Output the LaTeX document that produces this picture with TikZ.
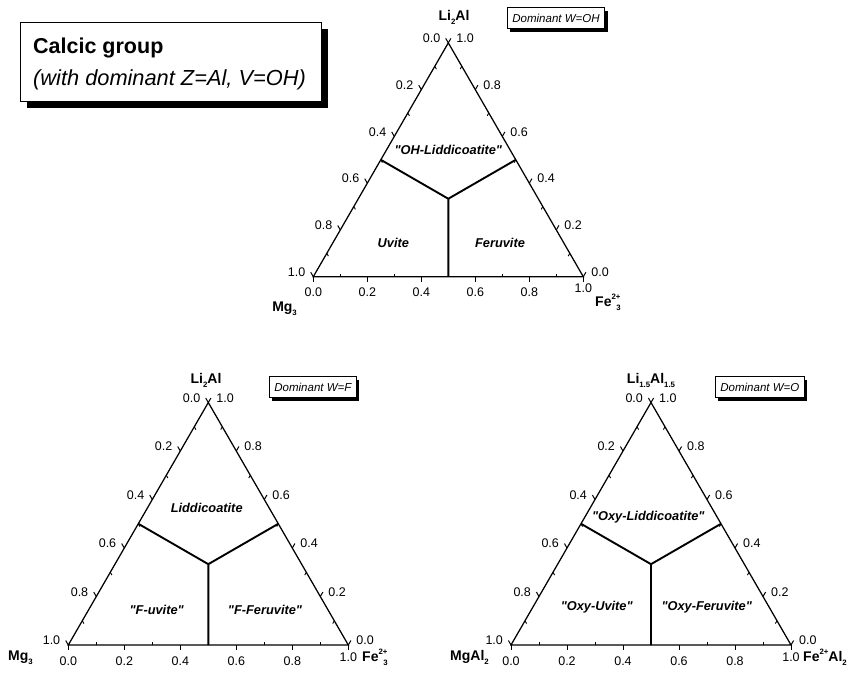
\documentclass[tikz,border=0pt]{standalone}
\usepackage{fontspec}
\setmainfont[Ligatures=TeXOff]{Liberation Sans}
\usetikzlibrary{calc,shadows}
\newcommand{\upx}[1]{\raisebox{0.5em}{\fontsize{7.8}{7.8}\selectfont #1}}
\newcommand{\dnx}[1]{\raisebox{-0.3em}{\fontsize{7.8}{7.8}\selectfont #1}}
\tikzset{
  side/.style={line width=1.25pt},
  divider/.style={line width=1.9pt},
  majtick/.style={line width=1pt},
  mintick/.style={line width=0.9pt},
  ticklab/.style={inner sep=0pt,font=\fontsize{12.5}{12.5}\selectfont},
  fieldlab/.style={inner sep=0pt,font=\fontsize{12.8}{12.8}\selectfont\bfseries\itshape},
  axislab/.style={inner sep=0pt,font=\fontsize{14}{14}\selectfont\bfseries},
  dombox/.style={draw,line width=0.8pt,fill=white,inner xsep=5pt,inner ysep=0pt,
    minimum height=21pt,
    font=\fontsize{11.5}{11.5}\selectfont\itshape,
    drop shadow={shadow xshift=3pt,shadow yshift=-3.5pt,fill=black,opacity=1}},
}
\newcommand{\ternplot}[4]{%
  \coordinate (#1bl) at (#2,#3);
  \coordinate (#1br) at ({#2+#4},#3);
  \coordinate (#1tp) at ({#2+#4/2},{#3-0.8660254*#4});
  \coordinate (#1c) at ({#2+#4/2},{#3-0.2886751*#4});
  \coordinate (#1ml) at ($(#1bl)!0.5!(#1tp)$);
  \coordinate (#1mr) at ($(#1br)!0.5!(#1tp)$);
  \coordinate (#1mb) at ($(#1bl)!0.5!(#1br)$);
  \foreach \v in {0.1,0.3,0.5,0.7,0.9}{
    \draw[mintick] ($(#1tp)!\v!(#1bl)$) -- ++(1.6,2.8);
    \draw[mintick] ($(#1br)!\v!(#1tp)$) -- ++(-1.6,2.8);
    \draw[mintick] ($(#1bl)!\v!(#1br)$) -- ++(0,-3);
  }
  \foreach \v/\l/\i in {0/0.0/0,0.2/0.2/2,0.4/0.4/4,0.6/0.6/6,0.8/0.8/8,1/1.0/10}{
    \draw[majtick] ($(#1tp)!\v!(#1bl)$) -- ++(-2.6,-4.5)
      node[ticklab,anchor=east,xshift=-5pt] (#1L\i) {\l};
    \draw[majtick] ($(#1br)!\v!(#1tp)$) -- ++(2.6,-4.5)
      node[ticklab,anchor=west,xshift=5pt] (#1R\i) {\l};
  }
  \foreach \v/\l/\i in {0/0.0/0,0.2/0.2/2,0.4/0.4/4,0.6/0.6/6,0.8/0.8/8}{
    \draw[majtick] ($(#1bl)!\v!(#1br)$) -- ++(0,5)
      node[ticklab,anchor=north,yshift=-6pt] (#1B\i) {\l};
  }
  \draw[majtick] (#1br) -- ++(0,5) node[ticklab,anchor=north,yshift=-2pt] (#1B10) {1.0};
  \draw[side] (#1bl) -- (#1br) -- (#1tp) -- cycle;
  \draw[divider] (#1ml) -- (#1c) -- (#1mr) (#1c) -- (#1mb);
}
\begin{document}
\begin{tikzpicture}[x=1pt,y=-1pt]
\useasboundingbox (0,0) rectangle (853,677);
% title box
\node[draw,line width=0.8pt,fill=white,minimum width=301pt,minimum height=79pt,
  drop shadow={shadow xshift=6pt,shadow yshift=-6pt,fill=black,opacity=1}]
  (calcbox) at (171.2,62.3) {};
\node[anchor=base west,inner sep=0pt,font=\fontsize{21.5}{21.5}\selectfont\bfseries]
  (title) at (33,53) {Calcic group};
\node[anchor=base west,inner sep=0pt,font=\fontsize{21.8}{21.8}\selectfont\itshape]
  (subtitle) at (33,85) {(with dominant Z=Al, V=OH)};

% top ternary
\ternplot{t}{313.3}{276.7}{270}
\node[axislab,anchor=base] (tA) at (454,20.5) {Li\dnx{2}Al};
\node[axislab,anchor=base east] (tM) at (297,311) {Mg\dnx{3}};
\node[axislab,anchor=base west] (tF) at (595,306.5) {Fe\upx{2+}\hspace{-4pt}\dnx{3}};
\node[dombox,anchor=north west] (tD) at (507,7) {Dominant W=OH};
\node[fieldlab] (tf1) at (448.3,150) {"OH-Liddicoatite"};
\node[fieldlab] (tf2) at (393.3,243.3) {Uvite};
\node[fieldlab] (tf3) at (500,243.3) {Feruvite};

% bottom-left ternary
\ternplot{l}{68.3}{645}{280}
\node[axislab,anchor=base] (lA) at (206,383.5) {Li\dnx{2}Al};
\node[axislab,anchor=base west] (lM) at (8,660) {Mg\dnx{3}};
\node[axislab,anchor=base west] (lF) at (362,661) {Fe\upx{2+}\hspace{-4pt}\dnx{3}};
\node[dombox,anchor=north west] (lD) at (269,376) {Dominant W=F};
\node[fieldlab] (lf1) at (206.7,508.3) {Liddicoatite};
\node[fieldlab] (lf2) at (156.7,610) {"F-uvite"};
\node[fieldlab] (lf3) at (265,610) {"F-Feruvite"};

% bottom-right ternary
\ternplot{r}{511}{645}{280}
\node[axislab,anchor=base] (rA) at (651,383.5) {Li\dnx{1.5}Al\dnx{1.5}};
\node[axislab,anchor=base west] (rM) at (450,660) {MgAl\dnx{2}};
\node[axislab,anchor=base west] (rF) at (803,661) {Fe\upx{2+}Al\dnx{2}};
\node[dombox,anchor=north west] (rD) at (715,376) {Dominant W=O};
\node[fieldlab] (rf1) at (648.3,516.7) {"Oxy-Liddicoatite"};
\node[fieldlab] (rf2) at (596.7,606.7) {"Oxy-Uvite"};
\node[fieldlab] (rf3) at (706.7,606.7) {"Oxy-Feruvite"};
\end{tikzpicture}
\end{document}
